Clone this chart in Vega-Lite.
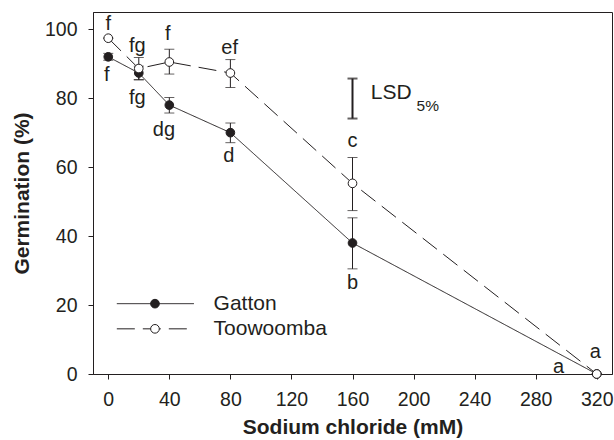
{
  "$schema": "https://vega.github.io/schema/vega-lite/v6.json",
  "width": 519,
  "height": 362,
  "autosize": {"type": "none"},
  "padding": {"left": 93, "top": 12, "right": 2, "bottom": 66},
  "background": "white",
  "config": {
    "font": "Liberation Sans",
    "view": {"stroke": "#231f20", "strokeWidth": 1},
    "axis": {
      "grid": false,
      "domainColor": "#231f20",
      "tickColor": "#231f20",
      "tickSize": 5,
      "labelColor": "#231f20",
      "titleColor": "#231f20",
      "labelFont": "Liberation Sans",
      "titleFont": "Liberation Sans",
      "labelFontSize": 19.5,
      "titleFontSize": 21,
      "titleFontWeight": "bold"
    }
  },
  "datasets": {
    "main": [
      {"site": "Gatton", "nacl": 0, "germ": 92, "lo": 91, "hi": 93},
      {"site": "Gatton", "nacl": 20, "germ": 87.3, "lo": 85.3, "hi": 89.3},
      {"site": "Gatton", "nacl": 40, "germ": 78, "lo": 75.7, "hi": 80.2},
      {"site": "Gatton", "nacl": 80, "germ": 70, "lo": 67.1, "hi": 72.8},
      {"site": "Gatton", "nacl": 160, "germ": 38, "lo": 30.5, "hi": 45.3},
      {"site": "Gatton", "nacl": 320, "germ": 0, "lo": 0, "hi": 0},
      {"site": "Toowoomba", "nacl": 0, "germ": 97.4, "lo": 97.4, "hi": 97.4},
      {"site": "Toowoomba", "nacl": 20, "germ": 88.6, "lo": 85.4, "hi": 91.8},
      {"site": "Toowoomba", "nacl": 40, "germ": 90.5, "lo": 87, "hi": 94.2},
      {"site": "Toowoomba", "nacl": 80, "germ": 87.3, "lo": 83.1, "hi": 91.2},
      {"site": "Toowoomba", "nacl": 160, "germ": 55.3, "lo": 47.4, "hi": 62.8},
      {"site": "Toowoomba", "nacl": 320, "germ": 0, "lo": 0, "hi": 0}
    ],
    "letters": [
      {"nacl": 0, "y": 101.5, "label": "f"},
      {"nacl": 19, "y": 95.2, "label": "fg"},
      {"nacl": 39, "y": 98.5, "label": "f"},
      {"nacl": 79.5, "y": 94.6, "label": "ef"},
      {"nacl": 160, "y": 67.5, "label": "c"},
      {"nacl": 319, "y": 6.3, "label": "a"},
      {"nacl": -1, "y": 86.8, "label": "f"},
      {"nacl": 19, "y": 80, "label": "fg"},
      {"nacl": 36.5, "y": 70.8, "label": "dg"},
      {"nacl": 79, "y": 63.2, "label": "d"},
      {"nacl": 160, "y": 26.5, "label": "b"},
      {"nacl": 295, "y": 1.9, "label": "a"}
    ],
    "lsd": [{"nacl": 160, "lo": 74.1, "hi": 85.7}],
    "legend": [
      {"site": "Gatton", "x": 5.6, "y": 20.4},
      {"site": "Gatton", "x": 56.1, "y": 20.4},
      {"site": "Toowoomba", "x": 5.6, "y": 13.1},
      {"site": "Toowoomba", "x": 56.1, "y": 13.1}
    ],
    "legendPts": [
      {"site": "Gatton", "x": 30.6, "y": 20.4, "tx": 69},
      {"site": "Toowoomba", "x": 30.6, "y": 13.1, "tx": 69}
    ]
  },
  "layer": [
    {
      "data": {"name": "main"},
      "mark": {"type": "line", "color": "#231f20", "strokeWidth": 1},
      "encoding": {
        "x": {"field": "nacl", "type": "quantitative", "scale": {"domain": [-10, 330], "nice": false, "zero": false},
              "axis": {"values": [0, 40, 80, 120, 160, 200, 240, 280, 320], "title": "Sodium chloride (mM)", "labelPadding": 11, "titlePadding": 8}},
        "y": {"field": "germ", "type": "quantitative", "scale": {"domain": [0, 105], "nice": false},
              "axis": {"values": [0, 20, 40, 60, 80, 100], "title": "Germination (%)", "labelPadding": 11, "titlePadding": 12}},
        "detail": {"field": "site"},
        "strokeDash": {"field": "site", "type": "nominal", "scale": {"domain": ["Gatton", "Toowoomba"], "range": [[1, 0], [18, 8]]}, "legend": null}
      }
    },
    {
      "data": {"name": "main"},
      "mark": {"type": "rule", "color": "#231f20", "strokeWidth": 1},
      "encoding": {
        "x": {"field": "nacl", "type": "quantitative"},
        "y": {"field": "lo", "type": "quantitative"},
        "y2": {"field": "hi"}
      }
    },
    {
      "data": {"name": "main"},
      "mark": {"type": "tick", "orient": "horizontal", "color": "#231f20", "size": 10, "thickness": 1},
      "encoding": {
        "x": {"field": "nacl", "type": "quantitative"},
        "y": {"field": "lo", "type": "quantitative"}
      }
    },
    {
      "data": {"name": "main"},
      "mark": {"type": "tick", "orient": "horizontal", "color": "#231f20", "size": 10, "thickness": 1},
      "encoding": {
        "x": {"field": "nacl", "type": "quantitative"},
        "y": {"field": "hi", "type": "quantitative"}
      }
    },
    {
      "data": {"name": "main"},
      "mark": {"type": "point", "shape": "circle", "size": 75, "filled": true, "stroke": "#231f20", "strokeWidth": 1, "opacity": 1},
      "encoding": {
        "x": {"field": "nacl", "type": "quantitative"},
        "y": {"field": "germ", "type": "quantitative"},
        "fill": {"field": "site", "type": "nominal", "scale": {"domain": ["Gatton", "Toowoomba"], "range": ["#231f20", "#ffffff"]}, "legend": null}
      }
    },
    {
      "data": {"name": "letters"},
      "mark": {"type": "text", "fontSize": 20, "color": "#231f20", "align": "center", "baseline": "middle"},
      "encoding": {
        "x": {"field": "nacl", "type": "quantitative"},
        "y": {"field": "y", "type": "quantitative"},
        "text": {"field": "label"}
      }
    },
    {
      "data": {"name": "lsd"},
      "mark": {"type": "rule", "color": "#231f20", "strokeWidth": 2},
      "encoding": {
        "x": {"field": "nacl", "type": "quantitative"},
        "y": {"field": "lo", "type": "quantitative"},
        "y2": {"field": "hi"}
      }
    },
    {
      "data": {"name": "lsd"},
      "mark": {"type": "tick", "orient": "horizontal", "color": "#231f20", "size": 10, "thickness": 2},
      "encoding": {
        "x": {"field": "nacl", "type": "quantitative"},
        "y": {"field": "lo", "type": "quantitative"}
      }
    },
    {
      "data": {"name": "lsd"},
      "mark": {"type": "tick", "orient": "horizontal", "color": "#231f20", "size": 10, "thickness": 2},
      "encoding": {
        "x": {"field": "nacl", "type": "quantitative"},
        "y": {"field": "hi", "type": "quantitative"}
      }
    },
    {
      "data": {"values": [{"x": 172, "y": 81.4, "t": "LSD"}]},
      "mark": {"type": "text", "fontSize": 21, "color": "#231f20", "align": "left", "baseline": "middle"},
      "encoding": {
        "x": {"field": "x", "type": "quantitative"},
        "y": {"field": "y", "type": "quantitative"},
        "text": {"field": "t"}
      }
    },
    {
      "data": {"values": [{"x": 202, "y": 77.6, "t": "5%"}]},
      "mark": {"type": "text", "fontSize": 15.5, "color": "#231f20", "align": "left", "baseline": "middle"},
      "encoding": {
        "x": {"field": "x", "type": "quantitative"},
        "y": {"field": "y", "type": "quantitative"},
        "text": {"field": "t"}
      }
    },
    {
      "data": {"name": "legend"},
      "mark": {"type": "line", "color": "#231f20", "strokeWidth": 1},
      "encoding": {
        "x": {"field": "x", "type": "quantitative"},
        "y": {"field": "y", "type": "quantitative"},
        "detail": {"field": "site"},
        "strokeDash": {"field": "site", "type": "nominal", "legend": null}
      }
    },
    {
      "data": {"name": "legendPts"},
      "mark": {"type": "point", "shape": "circle", "size": 75, "filled": true, "stroke": "#231f20", "strokeWidth": 1, "opacity": 1},
      "encoding": {
        "x": {"field": "x", "type": "quantitative"},
        "y": {"field": "y", "type": "quantitative"},
        "fill": {"field": "site", "type": "nominal", "legend": null}
      }
    },
    {
      "data": {"name": "legendPts"},
      "mark": {"type": "text", "fontSize": 21, "color": "#231f20", "align": "left", "baseline": "middle"},
      "encoding": {
        "x": {"field": "tx", "type": "quantitative"},
        "y": {"field": "y", "type": "quantitative"},
        "text": {"field": "site"}
      }
    }
  ]
}
